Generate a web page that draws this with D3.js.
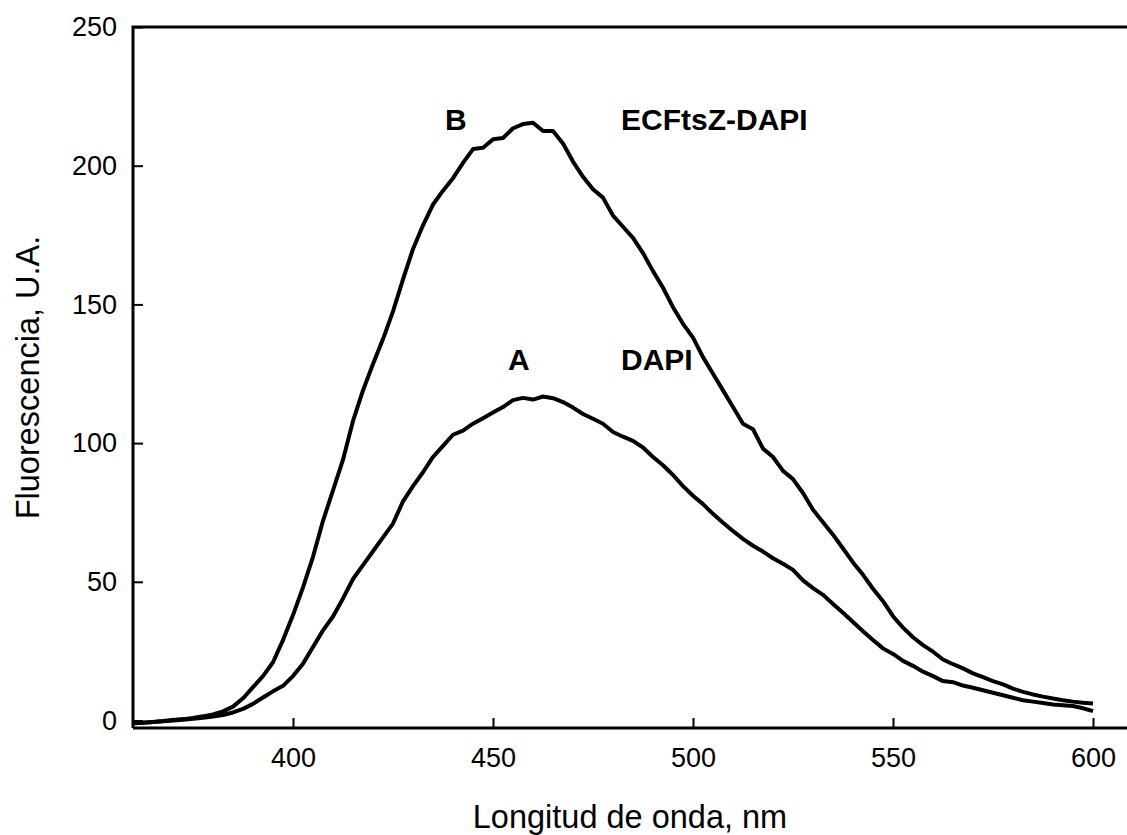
<!DOCTYPE html>
<html>
<head>
<meta charset="utf-8">
<script src="https://cdn.jsdelivr.net/npm/d3@7"></script>
<style>
  body { margin: 0; background: #fff; }
  svg { display: block; font-family: "Liberation Sans", Arial, sans-serif; }
</style>
</head>
<body>
<svg id="chart"></svg>
<script>
// Wavelength grid (nm), 2.5 nm steps
const wavelengths = d3.range(360, 600.01, 2.5);

// Curve B: ECFtsZ-DAPI
const ecftszDapi = [
  -1.0, -0.8, -0.5, -0.2, 0.2, 0.5, 0.9, 1.5, 2.2, 3.3,
  5.0, 8.0, 12.0, 16.0, 21.0, 29.0, 38.0, 48.0, 59.0, 72.0,
  83.0, 94.0, 108.0, 119.0, 128.5, 137.5, 147.5, 159.0, 170.0, 178.5,
  186.0, 191.0, 195.5, 201.0, 206.0, 206.5, 209.5, 210.0, 213.5, 215.0,
  215.5, 212.5, 212.5, 208.0, 201.5, 196.0, 191.5, 188.5, 182.0, 178.0,
  174.0, 168.5, 162.0, 156.0, 149.0, 143.0, 138.0, 131.0, 125.0, 119.0,
  113.0, 107.0, 105.0, 98.0, 95.0, 90.0, 87.0, 82.0, 76.0, 71.5,
  67.0, 62.0, 57.0, 52.5, 47.5, 43.0, 37.6, 33.5, 30.0, 27.2,
  24.8, 22.0, 20.3, 18.8, 17.0, 15.6, 14.2, 13.0, 11.5, 10.3,
  9.4, 8.6, 7.9, 7.3, 6.8, 6.4, 6.1
];

// Curve A: DAPI
const dapi = [
  -1.0, -0.8, -0.5, -0.3, 0.0, 0.3, 0.6, 1.0, 1.4, 2.0,
  2.9, 4.2, 6.0, 8.3, 10.5, 12.5, 16.0, 20.5, 26.5, 32.5,
  37.5, 44.0, 51.0, 56.0, 61.0, 66.0, 71.0, 79.0, 84.5, 89.5,
  95.0, 99.0, 103.0, 104.5, 107.0, 109.0, 111.0, 113.0, 115.5, 116.3,
  115.7, 116.8, 116.2, 114.8, 112.8, 110.5, 108.8, 107.0, 104.0, 102.3,
  100.8, 98.4, 95.0, 92.0, 88.5, 84.5, 81.0, 78.0, 74.5, 71.3,
  68.3, 65.5, 63.0, 60.9, 58.5, 56.5, 54.3, 50.5, 47.7, 45.3,
  42.0, 38.8, 35.5, 32.2, 29.0, 26.0, 24.0, 21.5, 19.7, 17.6,
  16.0, 14.2, 13.8, 12.6, 11.8, 10.9, 10.0, 9.1, 8.2, 7.3,
  6.8, 6.3, 5.8, 5.5, 5.2, 4.4, 3.4
];

// Tick values
const xTicks = [400, 450, 500, 550, 600];
const yTicks = [0, 50, 100, 150, 200, 250];

// Text labels inside the plot (data coordinates)
const labelText = ["B", "ECFtsZ-DAPI", "A", "DAPI"];
const labelX = [438, 482, 453.75, 482];
const labelY = [213, 213, 126.4, 126.4];

// Page size
var dims = { width: 1127, height: 835 };

const svg = d3.select("#chart")
  .attr("width", dims.width)
  .attr("height", dims.height);

// Scales
const xScale = d3.scaleLinear().domain([360, 600]).range([133, 1093]);
const yScale = d3.scaleLinear().domain([0, 250]).range([720.5, 27]);

const plotLeft = 133, plotTop = 27, plotBottom = 728, plotRight = 1130;

// Frame lines (left, top, bottom)
svg.append("path")
  .attr("d", `M${plotLeft},${plotBottom}V${plotTop}H${plotRight}M${plotLeft},${plotBottom}H${plotRight}`)
  .attr("fill", "none")
  .attr("stroke", "#000")
  .attr("stroke-width", 3);

// X axis, ticks pointing inward
const xAxis = d3.axisBottom(xScale)
  .tickValues(xTicks)
  .tickSizeInner(-10)
  .tickSizeOuter(0)
  .tickPadding(20);

const gx = svg.append("g")
  .attr("transform", `translate(0,${plotBottom})`)
  .call(xAxis);
gx.select(".domain").remove();
gx.selectAll("line").attr("stroke", "#000").attr("stroke-width", 2);
gx.selectAll("text").attr("font-size", 27).attr("fill", "#000");

// Y axis, ticks pointing inward
const yAxis = d3.axisLeft(yScale)
  .tickValues(yTicks)
  .tickSizeInner(-10)
  .tickSizeOuter(0)
  .tickPadding(16);

const gy = svg.append("g")
  .attr("transform", `translate(${plotLeft},0)`)
  .call(yAxis);
gy.select(".domain").remove();
gy.selectAll("line").attr("stroke", "#000").attr("stroke-width", 2);
gy.selectAll("text").attr("font-size", 27).attr("fill", "#000");

// Spectra
const line = d3.line()
  .x(d => xScale(d[0]))
  .y(d => yScale(d[1]));

[ecftszDapi, dapi].forEach(values => {
  svg.append("path")
    .datum(wavelengths.map((w, i) => [w, values[i]]))
    .attr("d", line)
    .attr("fill", "none")
    .attr("stroke", "#000")
    .attr("stroke-width", 4)
    .attr("stroke-linejoin", "round");
});

// Curve labels
svg.selectAll(".curve-label")
  .data(labelText)
  .enter()
  .append("text")
  .attr("class", "curve-label")
  .attr("x", (d, i) => xScale(labelX[i]))
  .attr("y", (d, i) => yScale(labelY[i]))
  .attr("font-size", 30)
  .attr("font-weight", "bold")
  .text(d => d);

// Axis titles
svg.append("text")
  .attr("x", (plotLeft + 1127) / 2)
  .attr("y", 828)
  .attr("text-anchor", "middle")
  .attr("font-size", 32.5)
  .text("Longitud de onda, nm");

svg.append("text")
  .attr("transform", `translate(39,${(plotTop + plotBottom) / 2}) rotate(-90)`)
  .attr("text-anchor", "middle")
  .attr("font-size", 32.5)
  .text("Fluorescencia, U.A.");
</script>
</body>
</html>
